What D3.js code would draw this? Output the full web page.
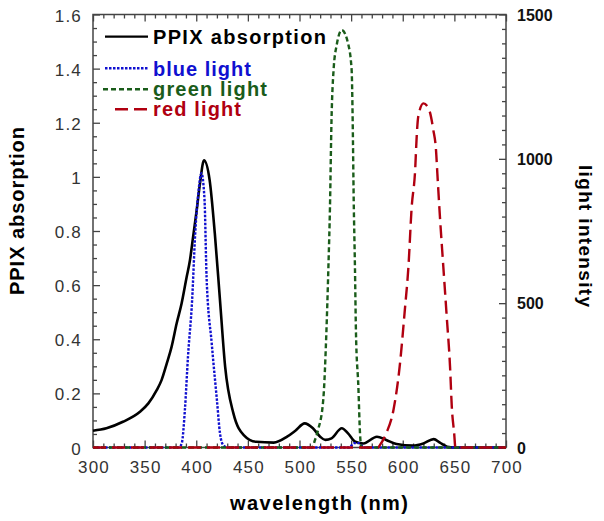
<!DOCTYPE html>
<html><head><meta charset="utf-8">
<script src="https://cdn.jsdelivr.net/npm/d3@7"></script>
<style>body{margin:0;background:#fff}svg{display:block}</style>
</head><body>
<script>
// ---- data ----
const ppixWl = [300,313,329,345.5,353.6,361.7,366.4,371.4,376.1,381,385.8,390.7,393.9,397,400.4,403.6,407.5,413,418,423,428,436,446,458,475,488,496,505,513,520,525,531,541,547,554,562,575,584,594,610,620,630,636,643,650,700];
const ppixAbs = [0.062,0.071,0.095,0.132,0.163,0.212,0.249,0.31,0.372,0.458,0.532,0.63,0.692,0.78,0.876,0.975,1.061,0.987,0.79,0.544,0.298,0.126,0.046,0.021,0.018,0.04,0.062,0.089,0.071,0.04,0.028,0.034,0.071,0.052,0.021,0.015,0.04,0.028,0.013,0.007,0.015,0.031,0.018,0.003,0,0];
const blueWl = [300,383,386,389,392,396,399,402,405,408,410,415,420,423,426,430,548,553,558,562,700];
const blueI  = [0,0,15,130,315,511,742,881,950,860,590,360,165,49,9,0,0,15,15,0,0];
const greenWl = [300,512,515,518,523,526,528,529.5,531,533,536,541,547,550.5,551.5,552.5,553.7,554.7,557,558.6,560,700];
const greenI  = [0,0,26,61,165,396,626,830,1134,1308,1394,1446,1400,1308,1134,857,626,396,211,49,0,0];
const redWl = [300,576,578,584,591,597,602,605.5,608.6,612,613.5,615,620,625,629.6,632.2,633.5,636,639.3,642.6,645.8,647.5,649.8,651,700];
const redI  = [0,0,9,49,130,280,476,626,830,961,1077,1146,1192,1175,1100,1031,950,800,626,453,280,141,49,0,0];
const xTicks = [300,350,400,450,500,550,600,650,700];
const yLeftTicks = [0,0.2,0.4,0.6,0.8,1,1.2,1.4,1.6];
const yRightTicks = [0,500,1000,1500];
const legendLabels = ["PPIX absorption","blue light","green light","red light"];

const W = 604, H = 521;
const m = {l:93, r:506, t:14.5, b:447.5};
const svg = d3.select("body").append("svg").attr("width",W).attr("height",H);

const x = d3.scaleLinear().domain([300,700]).range([m.l,m.r]);
const yL = d3.scaleLinear().domain([0,1.6]).range([m.b,m.t]);
const yR = d3.scaleLinear().domain([0,1500]).range([m.b,m.t]);

const tickCol = "#444";
function styleAxis(g){ g.select(".domain").remove(); g.selectAll("line").attr("stroke",tickCol).attr("stroke-width",1.3); }

// minor ticks
const xMinor = d3.range(300,701,10).filter(v=>v%50!==0);
const yLMinor = d3.range(0,1.601,0.05).filter(v=>Math.abs(v*5-Math.round(v*5))>1e-6);
const yRMinor = d3.range(0,1501,50).filter(v=>v%500!==0);

svg.append("g").attr("transform",`translate(0,${m.b})`).call(d3.axisBottom(x).tickValues(xMinor).tickSize(-4).tickFormat("")).call(styleAxis);
svg.append("g").attr("transform",`translate(0,${m.t})`).call(d3.axisTop(x).tickValues(xMinor).tickSize(-4).tickFormat("")).call(styleAxis);
svg.append("g").attr("transform",`translate(0,${m.b})`).call(d3.axisBottom(x).tickValues(xTicks).tickSize(-7).tickFormat("")).call(styleAxis);
svg.append("g").attr("transform",`translate(0,${m.t})`).call(d3.axisTop(x).tickValues(xTicks).tickSize(-7).tickFormat("")).call(styleAxis);
svg.append("g").attr("transform",`translate(${m.l},0)`).call(d3.axisLeft(yL).tickValues(yLMinor).tickSize(-4).tickFormat("")).call(styleAxis);
svg.append("g").attr("transform",`translate(${m.l},0)`).call(d3.axisLeft(yL).tickValues(yLeftTicks).tickSize(-7).tickFormat("")).call(styleAxis);
svg.append("g").attr("transform",`translate(${m.r},0)`).call(d3.axisRight(yR).tickValues(yRMinor).tickSize(-4).tickFormat("")).call(styleAxis);
svg.append("g").attr("transform",`translate(${m.r},0)`).call(d3.axisRight(yR).tickValues(yRightTicks).tickSize(-7).tickFormat("")).call(styleAxis);

// frame
svg.append("rect").attr("x",m.l).attr("y",m.t).attr("width",m.r-m.l).attr("height",m.b-m.t)
  .attr("fill","none").attr("stroke",tickCol).attr("stroke-width",1.5);

// tick labels
const lblFont = "Liberation Sans, Arial, sans-serif";
svg.append("g").selectAll("text").data(xTicks).join("text")
  .attr("x",d=>x(d)+1).attr("y",473).attr("text-anchor","middle")
  .attr("font-family",lblFont).attr("font-size",17).attr("letter-spacing",1.2).attr("fill","#333")
  .text(d=>d);
svg.append("g").selectAll("text").data(yLeftTicks).join("text")
  .attr("x",82).attr("y",d=>yL(d)+7).attr("text-anchor","end")
  .attr("font-family",lblFont).attr("font-size",17).attr("letter-spacing",1.2).attr("fill","#333")
  .text(d=>d3.format("")(d));
svg.append("g").selectAll("text").data(yRightTicks).join("text")
  .attr("x",517).attr("y",d=>yR(d)+6).attr("text-anchor","start")
  .attr("font-family",lblFont).attr("font-size",16).attr("font-weight","bold").attr("fill","#111")
  .text(d=>d);

// axis titles
svg.append("text").attr("x",319).attr("y",510).attr("text-anchor","middle")
  .attr("font-family",lblFont).attr("font-size",20).attr("font-weight","bold")
  .attr("textLength",178).attr("lengthAdjust","spacing").text("wavelength (nm)");
svg.append("text").attr("transform","translate(24,211) rotate(-90)").attr("text-anchor","middle")
  .attr("font-family",lblFont).attr("font-size",20).attr("font-weight","bold")
  .attr("textLength",168).attr("lengthAdjust","spacing").text("PPIX absorption");
svg.append("text").attr("transform","translate(579,236) rotate(90)").attr("text-anchor","middle")
  .attr("font-family",lblFont).attr("font-size",19).attr("font-weight","bold")
  .attr("textLength",142).attr("lengthAdjust","spacing").text("light intensity");

// lines
const styles = [
  {c:"#000", dash:null, w:2.6},
  {c:"#1010d0", dash:"2.5,1.5", w:2.4},
  {c:"#1a5c1a", dash:"5,3", w:2.4},
  {c:"#b00010", dash:"13,6", w:2.4}
];
const lineL = d3.line().x(d=>x(d[0])).y(d=>yL(d[1])).curve(d3.curveMonotoneX);
const lineR = d3.line().x(d=>x(d[0])).y(d=>yR(d[1])).curve(d3.curveMonotoneX);
const series = [
  {d:d3.zip(ppixWl,ppixAbs), gen:lineL},
  {d:d3.zip(blueWl,blueI), gen:lineR},
  {d:d3.zip(greenWl,greenI), gen:lineR},
  {d:d3.zip(redWl,redI), gen:lineR}
];
series.forEach((s,i)=>{
  svg.append("path").attr("d",s.gen(s.d)).attr("fill","none")
    .attr("stroke",styles[i].c).attr("stroke-width",styles[i].w)
    .attr("stroke-dasharray",styles[i].dash).attr("stroke-linejoin","round");
});

// legend
const legY = [36.7,68.3,89.3,109.3];
const legX0 = [105,105,103,115];
const legTxtY = [43.5,75.5,95.5,115.5];
const legW = [173,98,114,88];
const legSize = [20,20,20,20];
legendLabels.forEach((t,i)=>{
  svg.append("line").attr("x1",legX0[i]).attr("x2",148).attr("y1",legY[i]).attr("y2",legY[i])
    .attr("stroke",styles[i].c).attr("stroke-width",i===0?2.2:2.4).attr("stroke-dasharray",styles[i].dash);
  svg.append("text").attr("x",153).attr("y",legTxtY[i])
    .attr("font-family",lblFont).attr("font-size",legSize[i]).attr("font-weight","bold")
    .attr("fill",i===0?"#000":styles[i].c)
    .attr("textLength",legW[i]).attr("lengthAdjust","spacing").text(t);
});
</script>
</body></html>
